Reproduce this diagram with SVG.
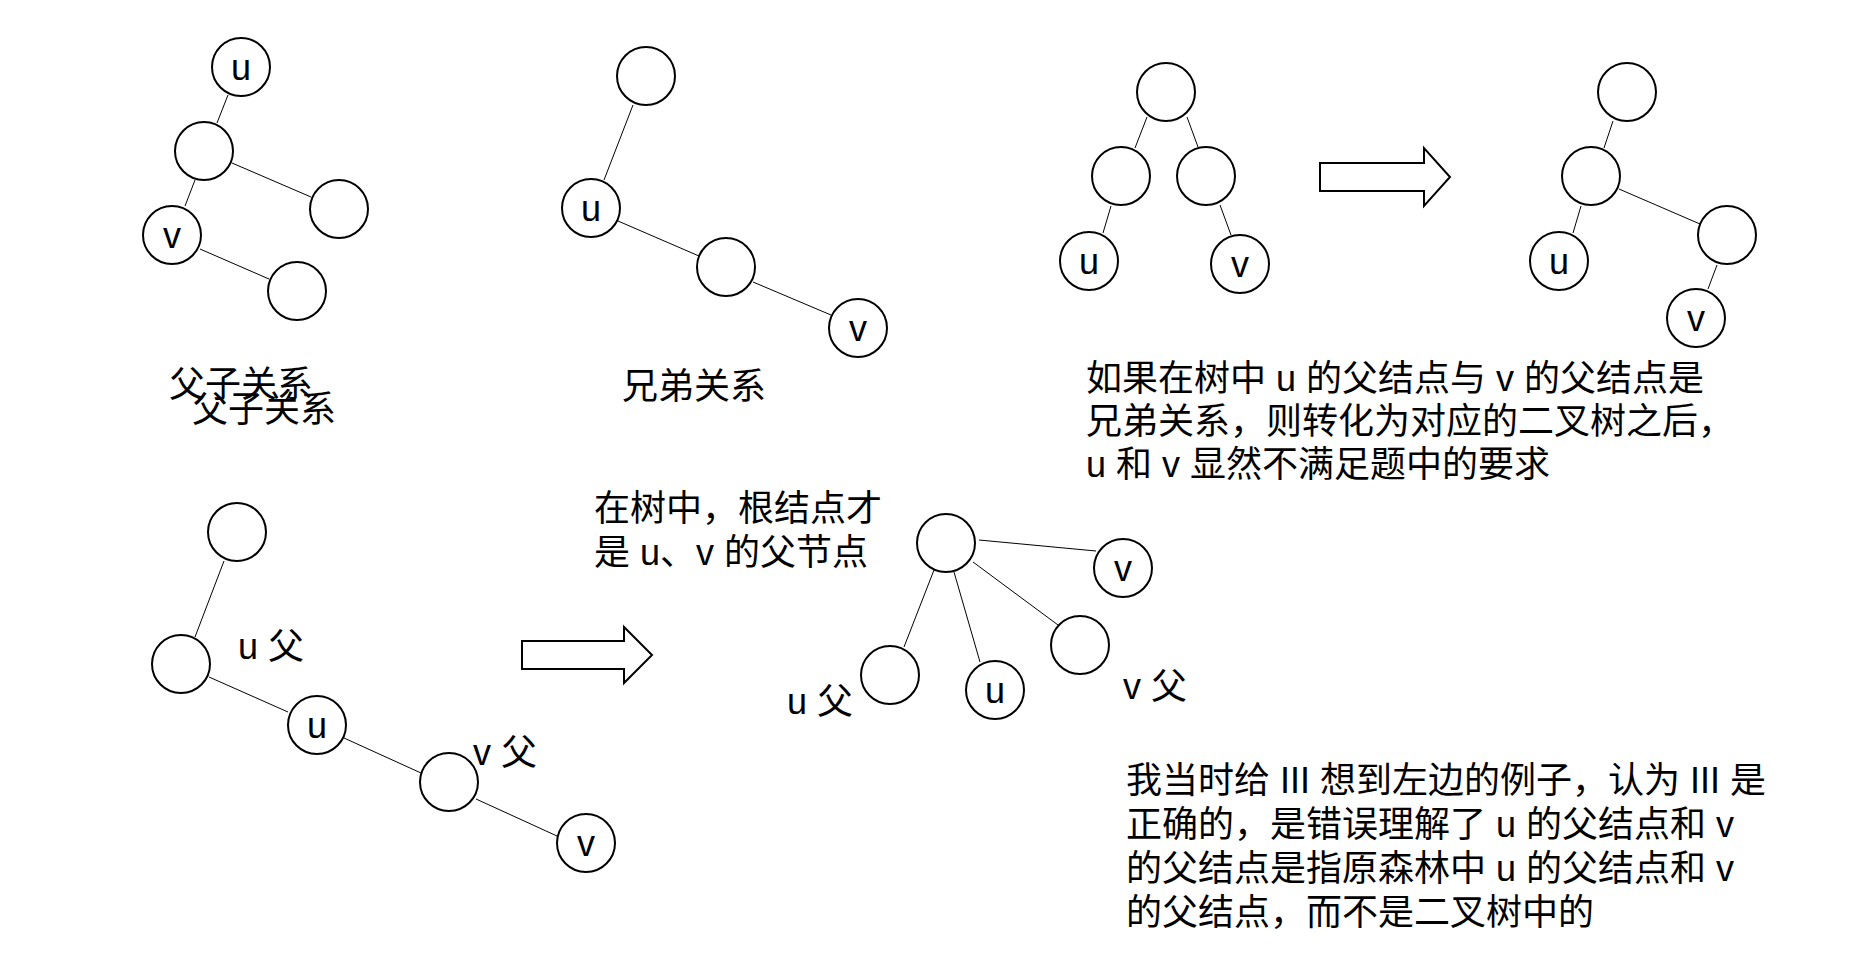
<svg xmlns="http://www.w3.org/2000/svg" width="1853" height="967" viewBox="0 0 1853 967">
<style>
.n{fill:#fff;stroke:#000;stroke-width:2}
.e{stroke:#000;stroke-width:1;fill:none}
.ar{fill:#fff;stroke:#000;stroke-width:2}
text{font-family:"Liberation Sans","Noto Sans CJK SC",sans-serif;font-size:36px;fill:#000}
.c{text-anchor:middle}
</style>
<rect width="1853" height="967" fill="#fff"/>
<g id="connectors">
<line class="e" x1="228" y1="95" x2="217" y2="123"/>
<line class="e" x1="232" y1="163" x2="311" y2="197"/>
<line class="e" x1="195" y1="180" x2="185" y2="206"/>
<line class="e" x1="200" y1="249" x2="269" y2="279"/>
<line class="e" x1="633" y1="105" x2="604" y2="180"/>
<line class="e" x1="618" y1="221" x2="699" y2="256"/>
<line class="e" x1="753" y1="282" x2="831" y2="315"/>
<line class="e" x1="1147" y1="117" x2="1135" y2="148"/>
<line class="e" x1="1187" y1="117" x2="1198" y2="147"/>
<line class="e" x1="1111" y1="206" x2="1103" y2="233"/>
<line class="e" x1="1220" y1="205" x2="1231" y2="235"/>
<line class="e" x1="1613" y1="121" x2="1604" y2="148"/>
<line class="e" x1="1619" y1="189" x2="1700" y2="224"/>
<line class="e" x1="1581" y1="206" x2="1573" y2="233"/>
<line class="e" x1="1717" y1="265" x2="1708" y2="289"/>
<line class="e" x1="224" y1="561" x2="195" y2="637"/>
<line class="e" x1="209" y1="677" x2="288" y2="712"/>
<line class="e" x1="344" y1="738" x2="421" y2="773"/>
<line class="e" x1="476" y1="799" x2="557" y2="836"/>
<line class="e" x1="979" y1="540" x2="1096" y2="551"/>
<line class="e" x1="973" y1="562" x2="1058" y2="625"/>
<line class="e" x1="954" y1="572" x2="980" y2="662"/>
<line class="e" x1="934" y1="570" x2="904" y2="647"/>
</g>
<g id="arrow-top"><polygon class="ar" points="1320,163 1424,163 1424,148 1450,177 1424,206 1424,191 1320,191"/></g>
<g id="arrow-bottom"><polygon class="ar" points="522,641 624,641 624,627 652,655 624,683 624,669 522,669"/></g>
<g id="a1"><circle class="n" cx="241" cy="67" r="29"/><text class="c" x="241" y="80">u</text></g>
<g id="a2"><circle class="n" cx="204" cy="151" r="29"/></g>
<g id="a3"><circle class="n" cx="339" cy="209" r="29"/></g>
<g id="a4"><circle class="n" cx="172" cy="235" r="29"/><text class="c" x="172" y="248">v</text></g>
<g id="a5"><circle class="n" cx="297" cy="291" r="29"/></g>
<g id="b1"><circle class="n" cx="646" cy="76" r="29"/></g>
<g id="b2"><circle class="n" cx="591" cy="208" r="29"/><text class="c" x="591" y="221">u</text></g>
<g id="b3"><circle class="n" cx="726" cy="267" r="29"/></g>
<g id="b4"><circle class="n" cx="858" cy="328" r="29"/><text class="c" x="858" y="341">v</text></g>
<g id="c1"><circle class="n" cx="1166" cy="92" r="29"/></g>
<g id="c2"><circle class="n" cx="1121" cy="176" r="29"/></g>
<g id="c3"><circle class="n" cx="1206" cy="176" r="29"/></g>
<g id="c4"><circle class="n" cx="1089" cy="261" r="29"/><text class="c" x="1089" y="274">u</text></g>
<g id="c5"><circle class="n" cx="1240" cy="264" r="29"/><text class="c" x="1240" y="277">v</text></g>
<g id="d1"><circle class="n" cx="1627" cy="92" r="29"/></g>
<g id="d2"><circle class="n" cx="1591" cy="176" r="29"/></g>
<g id="d3"><circle class="n" cx="1727" cy="235" r="29"/></g>
<g id="d4"><circle class="n" cx="1559" cy="261" r="29"/><text class="c" x="1559" y="274">u</text></g>
<g id="d5"><circle class="n" cx="1696" cy="318" r="29"/><text class="c" x="1696" y="331">v</text></g>
<g id="e1"><circle class="n" cx="237" cy="532" r="29"/></g>
<g id="e2"><circle class="n" cx="181" cy="664" r="29"/></g>
<g id="e3"><circle class="n" cx="317" cy="725" r="29"/><text class="c" x="317" y="738">u</text></g>
<g id="e4"><circle class="n" cx="449" cy="782" r="29"/></g>
<g id="e5"><circle class="n" cx="586" cy="843" r="29"/><text class="c" x="586" y="856">v</text></g>
<g id="f1"><circle class="n" cx="946" cy="543" r="29"/></g>
<g id="f2"><circle class="n" cx="1123" cy="568" r="29"/><text class="c" x="1123" y="581">v</text></g>
<g id="f3"><circle class="n" cx="1080" cy="645" r="29"/></g>
<g id="f4"><circle class="n" cx="890" cy="675" r="29"/></g>
<g id="f5"><circle class="n" cx="995" cy="690" r="29"/><text class="c" x="995" y="703">u</text></g>
<g id="labels">
<text x="169" y="397">父子关系</text>
<text x="192" y="422">父子关系</text>
<text x="622" y="399">兄弟关系</text>
<text x="238" y="659">u 父</text>
<text x="473" y="765">v 父</text>
<text x="787" y="714">u 父</text>
<text x="1123" y="699">v 父</text>
</g>
<g id="note-top">
<text x="1086" y="391">如果在树中 u 的父结点与 v 的父结点是</text>
<text x="1086" y="434">兄弟关系，则转化为对应的二叉树之后，</text>
<text x="1086" y="477">u 和 v 显然不满足题中的要求</text>
</g>
<g id="note-mid">
<text x="594" y="521">在树中，根结点才</text>
<text x="594" y="565">是 u、v 的父节点</text>
</g>
<g id="note-bottom">
<text x="1126" y="793">我当时给 III 想到左边的例子，认为 III 是</text>
<text x="1126" y="837">正确的，是错误理解了 u 的父结点和 v</text>
<text x="1126" y="881">的父结点是指原森林中 u 的父结点和 v</text>
<text x="1126" y="925">的父结点，而不是二叉树中的</text>
</g>
</svg>
